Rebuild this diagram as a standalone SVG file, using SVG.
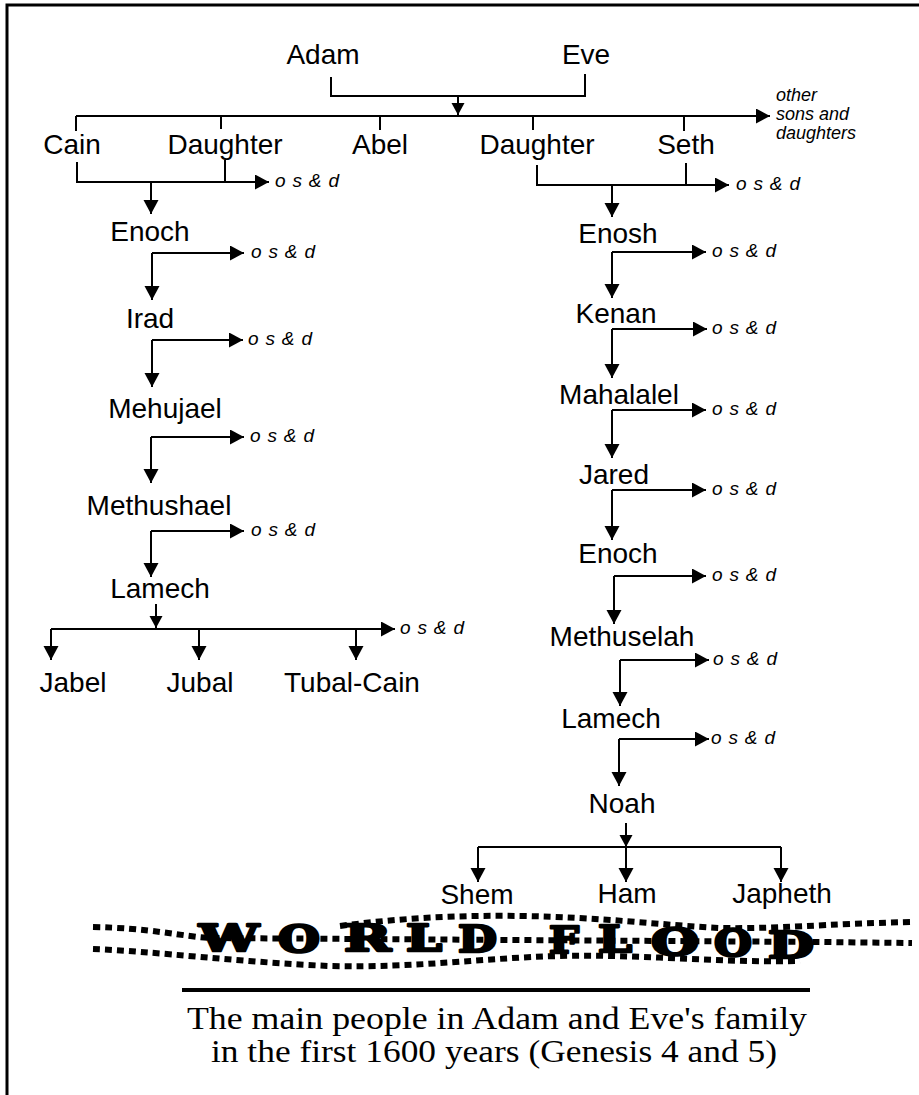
<svg xmlns="http://www.w3.org/2000/svg" width="919" height="1095" viewBox="0 0 919 1095">
<defs>
<style>
.n{font-family:"Liberation Sans",Arial,sans-serif;font-size:28px;fill:#000;text-anchor:middle}
.o{font-family:"Liberation Sans",Arial,sans-serif;font-size:19px;font-style:italic;fill:#000}
.s{font-family:"Liberation Sans",Arial,sans-serif;font-size:18px;font-style:italic;fill:#000}
.c{font-family:"Liberation Serif","Times New Roman",serif;font-size:32px;fill:#000;text-anchor:middle}
.w{font-family:"DejaVu Serif",serif;font-weight:bold;font-size:38px;fill:#000;stroke:#000;stroke-width:2.5;stroke-linejoin:round}
.l{stroke:#000;stroke-width:2;fill:none}
.a{stroke:#000;stroke-width:2;fill:none;marker-end:url(#ah)}
.as{stroke:#000;stroke-width:2;fill:none;marker-end:url(#ahs)}
.d{stroke:#000;stroke-width:6;fill:none;stroke-dasharray:7 5}
</style>
<marker id="ah" markerUnits="userSpaceOnUse" markerWidth="16" markerHeight="16" refX="14" refY="7.5" orient="auto"><path d="M0,0 L14,7.5 L0,15 z" fill="#000"/></marker>
<marker id="ahs" markerUnits="userSpaceOnUse" markerWidth="14" markerHeight="14" refX="12" refY="6.5" orient="auto"><path d="M0,0 L12,6.5 L0,13 z" fill="#000"/></marker>
</defs>
<rect width="919" height="1095" fill="#fff"/>
<g id="border"><path d="M7,1095 V5 H919" stroke="#000" stroke-width="3" fill="none"/></g>

<g id="connectors">
<path class="l" d="M331,77 V96 H585 V74"/>
<path class="as" d="M458,96 V115"/>
<path class="a" d="M76,116 H770"/>
<path class="l" d="M76,116 V131 M221,116 V129 M380,116 V130 M533,116 V130 M684,116 V131"/>
<path class="a" d="M77,162 V182 H269"/>
<path class="l" d="M225,160 V182"/>
<path class="a" d="M151,182 V214"/>
<path class="a" d="M537,165 V185 H729"/>
<path class="l" d="M686,163 V185"/>
<path class="a" d="M612,185 V217"/>
<path class="a" d="M152,253 H244"/><path class="a" d="M152,253 V300"/>
<path class="a" d="M152,340 H243"/><path class="a" d="M152,340 V387"/>
<path class="a" d="M151,437 H244"/><path class="a" d="M151,437 V483"/>
<path class="a" d="M151,531 H244"/><path class="a" d="M151,531 V577"/>
<path class="as" d="M156,604 V628"/>
<path class="a" d="M51,629 H395"/>
<path class="a" d="M51,629 V660"/><path class="a" d="M199,629 V660"/><path class="a" d="M356,629 V660"/>
<path class="a" d="M612,252 H706"/><path class="a" d="M612,252 V298"/>
<path class="a" d="M612,329 H707"/><path class="a" d="M612,329 V378"/>
<path class="a" d="M612,410 H706"/><path class="a" d="M612,410 V458"/>
<path class="a" d="M612,490 H706"/><path class="a" d="M612,490 V540"/>
<path class="a" d="M614,576 H706"/><path class="a" d="M614,576 V624"/>
<path class="a" d="M620,660 H709"/><path class="a" d="M620,660 V706"/>
<path class="a" d="M619,739 H709"/><path class="a" d="M619,739 V786"/>
<path class="as" d="M626,823 V847"/>
<path class="l" d="M478,847 H781"/>
<path class="a" d="M478,847 V882"/><path class="a" d="M626,847 V882"/><path class="a" d="M781,847 V882"/>
</g>

<g id="n-adam"><text class="n" x="323" y="64">Adam</text></g>
<g id="n-eve"><text class="n" x="586" y="64">Eve</text></g>
<g id="n-cain"><text class="n" x="72" y="154">Cain</text></g>
<g id="n-daughter1"><text class="n" x="225" y="154">Daughter</text></g>
<g id="n-abel"><text class="n" x="380" y="154">Abel</text></g>
<g id="n-daughter2"><text class="n" x="537" y="154">Daughter</text></g>
<g id="n-seth"><text class="n" x="686" y="154">Seth</text></g>
<g id="n-other"><text class="s" x="776" y="101">other</text><text class="s" x="776" y="120">sons and</text><text class="s" x="776" y="139">daughters</text></g>

<g id="n-enoch1"><text class="n" x="150" y="241">Enoch</text></g>
<g id="n-irad"><text class="n" x="150" y="328">Irad</text></g>
<g id="n-mehujael"><text class="n" x="165" y="418">Mehujael</text></g>
<g id="n-methushael"><text class="n" x="159" y="515">Methushael</text></g>
<g id="n-lamech1"><text class="n" x="160" y="598">Lamech</text></g>
<g id="n-jabel"><text class="n" x="73" y="692">Jabel</text></g>
<g id="n-jubal"><text class="n" x="200" y="692">Jubal</text></g>
<g id="n-tubalcain"><text class="n" x="352" y="692">Tubal-Cain</text></g>

<g id="n-enosh"><text class="n" x="618" y="243">Enosh</text></g>
<g id="n-kenan"><text class="n" x="616" y="323">Kenan</text></g>
<g id="n-mahalalel"><text class="n" x="619" y="404">Mahalalel</text></g>
<g id="n-jared"><text class="n" x="614" y="484">Jared</text></g>
<g id="n-enoch2"><text class="n" x="618" y="563">Enoch</text></g>
<g id="n-methuselah"><text class="n" x="622" y="646">Methuselah</text></g>
<g id="n-lamech2"><text class="n" x="611" y="728">Lamech</text></g>
<g id="n-noah"><text class="n" x="622" y="813">Noah</text></g>
<g id="n-shem"><text class="n" x="477" y="904">Shem</text></g>
<g id="n-ham"><text class="n" x="627" y="903">Ham</text></g>
<g id="n-japheth"><text class="n" x="782" y="903">Japheth</text></g>

<g id="osd">
<text class="o" x="275" y="187" textLength="64">o s &amp; d</text>
<text class="o" x="736" y="190" textLength="64">o s &amp; d</text>
<text class="o" x="251" y="258" textLength="64">o s &amp; d</text>
<text class="o" x="248" y="345" textLength="64">o s &amp; d</text>
<text class="o" x="250" y="442" textLength="64">o s &amp; d</text>
<text class="o" x="251" y="536" textLength="64">o s &amp; d</text>
<text class="o" x="400" y="634" textLength="64">o s &amp; d</text>
<text class="o" x="712" y="257" textLength="64">o s &amp; d</text>
<text class="o" x="712" y="334" textLength="64">o s &amp; d</text>
<text class="o" x="712" y="415" textLength="64">o s &amp; d</text>
<text class="o" x="712" y="495" textLength="64">o s &amp; d</text>
<text class="o" x="712" y="581" textLength="64">o s &amp; d</text>
<text class="o" x="713" y="665" textLength="64">o s &amp; d</text>
<text class="o" x="711" y="744" textLength="64">o s &amp; d</text>
</g>

<g id="flood">
<path class="d" d="M93,927 C150,928 180,936 210,938 L820,942 L912,943"/>
<path class="d" d="M340,926 C400,918 460,915 520,916 C600,917 660,925 720,928 C780,929 820,924 912,922"/>
<path class="d" d="M93,949 C150,951 250,963 330,966 C420,968 480,958 560,956 C640,954 720,963 800,961"/>
<text class="w" x="199" y="951" textLength="60" lengthAdjust="spacingAndGlyphs">W</text>
<text class="w" x="278" y="952" textLength="42" lengthAdjust="spacingAndGlyphs">O</text>
<text class="w" x="344" y="951" textLength="47" lengthAdjust="spacingAndGlyphs">R</text>
<text class="w" x="406" y="951" textLength="36" lengthAdjust="spacingAndGlyphs">L</text>
<text class="w" x="458" y="952" textLength="39" lengthAdjust="spacingAndGlyphs">D</text>
<text class="w" x="549" y="953" textLength="30" lengthAdjust="spacingAndGlyphs">F</text>
<text class="w" x="598" y="952" textLength="34" lengthAdjust="spacingAndGlyphs">L</text>
<text class="w" x="651" y="955" textLength="48" lengthAdjust="spacingAndGlyphs">O</text>
<text class="w" x="714" y="956" textLength="38" lengthAdjust="spacingAndGlyphs">O</text>
<text class="w" x="768" y="958" textLength="46" lengthAdjust="spacingAndGlyphs">D</text>
</g>

<g id="caption">
<path d="M182,990 H810" stroke="#000" stroke-width="4"/>
<text class="c" x="497" y="1029" textLength="620" lengthAdjust="spacingAndGlyphs">The main people in Adam and Eve's family</text>
<text class="c" x="494" y="1062" textLength="566" lengthAdjust="spacingAndGlyphs">in the first 1600 years  (Genesis 4 and 5)</text>
</g>
</svg>
